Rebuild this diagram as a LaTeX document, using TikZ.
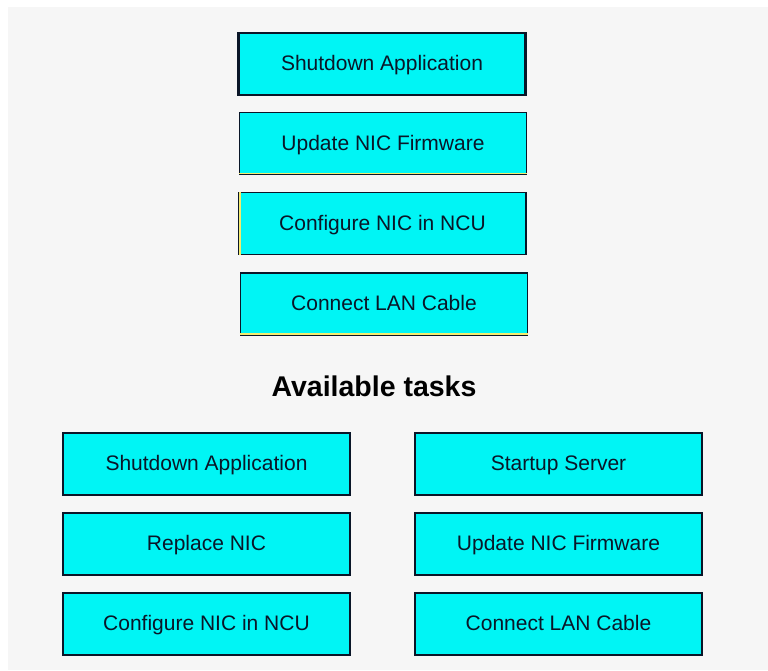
\documentclass[tikz,border=0pt]{standalone}
\usepackage{fontspec}
\setmainfont{Liberation Sans}
\definecolor{bggray}{RGB}{246,246,246}
\definecolor{boxfill}{RGB}{0,245,245}
\definecolor{boxline}{RGB}{10,22,40}
\definecolor{hiyellow}{RGB}{245,235,110}
\begin{document}
\begin{tikzpicture}[x=1pt,y=-1pt,
  taskbox/.style={draw=boxline, fill=boxfill, line width=1.6pt,
    minimum width=287pt, minimum height=62pt, inner sep=0pt,
    text height=17pt, text depth=4pt,
    text=boxline, font=\fontsize{21}{25}\selectfont},
  topbox/.style={taskbox, line width=2.6pt},
  hiline/.style={draw=hiyellow, line width=1.4pt}]
\useasboundingbox (0,0) rectangle (768,670);
\fill[white] (0,0) rectangle (768,670);
\fill[bggray] (8,7) rectangle (768,670);
% chosen sequence
\node[topbox] (s1) at (382,64) {Shutdown Application};
\node[taskbox] (s2) at (383,143.5) {Update NIC Firmware};
\node[taskbox] (s3) at (382.5,223.5) {Configure NIC in NCU};
\node[taskbox] (s4) at (384,304) {Connect LAN Cable};
% yellow highlight edges
\draw[hiline] ([yshift=1.8pt]s2.south west) -- ([yshift=1.8pt]s2.south east);
\draw[hiline] ([xshift=1.8pt]s3.north west) -- ([xshift=1.8pt]s3.south west);
\draw[hiline] ([yshift=1.8pt]s4.south west) -- ([yshift=1.8pt]s4.south east);
% heading
\node[text=black, font=\bfseries\fontsize{28.5}{32}\selectfont] (head) at (374,386) {Available tasks};
% available tasks
\node[taskbox] (a1) at (206.5,464) {Shutdown Application};
\node[taskbox] (a2) at (206.5,544) {Replace NIC};
\node[taskbox] (a3) at (206.5,624) {Configure NIC in NCU};
\node[taskbox] (b1) at (558.5,464) {Startup Server};
\node[taskbox] (b2) at (558.5,544) {Update NIC Firmware};
\node[taskbox] (b3) at (558.5,624) {Connect LAN Cable};
\end{tikzpicture}
\end{document}
